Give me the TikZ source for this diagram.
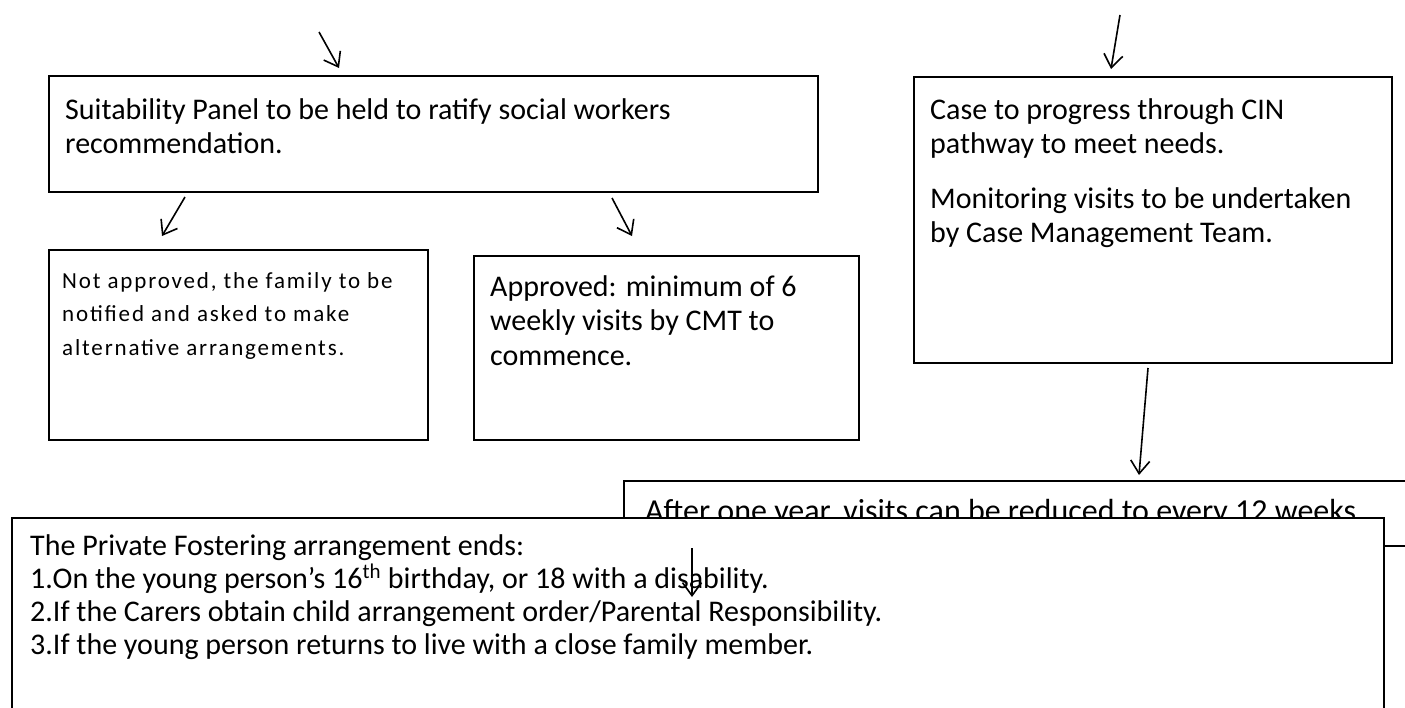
\documentclass[tikz,border=0pt]{standalone}
\usepackage{fontspec}
\setmainfont{Carlito}
\newfontfamily\spacedfont[LetterSpace=8]{Carlito}
\usetikzlibrary{arrows.meta}
\begin{document}
\begin{tikzpicture}[x=1pt,y=-1pt,
  box/.style={draw=black,line width=1.6pt,fill=white,inner sep=0pt,anchor=north west},
  txt/.style={anchor=base west,inner sep=0pt,font=\fontsize{30}{34}\selectfont},
  small/.style={anchor=base west,inner sep=0pt,font=\spacedfont\fontsize{23}{26}\selectfont},
  arr/.style={line width=1.6pt,-{Straight Barb[length=13pt,width=19pt,line width=1.6pt]}}]
\useasboundingbox (0,0) rectangle (1405,707);
\clip (0,0) rectangle (1405,707);
% boxes
\node[box,minimum width=769pt,minimum height=116pt] (A) at (48,75) {};
\node[box,minimum width=379pt,minimum height=190pt] (B) at (48,249) {};
\node[box,minimum width=385pt,minimum height=184pt] (C) at (473,255) {};
\node[box,minimum width=478pt,minimum height=286pt] (D) at (913,76) {};
% texts
\node[txt] (a1) at (65,119) {Suitability Panel to be held to ratify social workers};
\node[txt] (a2) at (65,153) {recommendation.};
\node[small] (b1) at (62,288) {Not approved, the family to be};
\node[small] (b2) at (62,321) {notified and asked to make};
\node[small] (b3) at (62,355) {alternative arrangements.};
\node[txt] (c1) at (490,296) {Approved: minimum of 6};
\node[txt] (c2) at (490,330) {weekly visits by CMT to};
\node[txt] (c3) at (490,365) {commence.};
\node[txt] (d1) at (930,119) {Case to progress through CIN};
\node[txt] (d2) at (930,153) {pathway to meet needs.};
\node[txt] (d3) at (930,208) {Monitoring visits to be undertaken};
\node[txt] (d4) at (930,242) {by Case Management Team.};
% box E (partly hidden)
\node[box,minimum width=800pt,minimum height=65pt] (E) at (623,480) {};
\node[txt,font=\fontsize{32}{36}\selectfont] (e1) at (645,521) {After one year, visits can be reduced to every 12 weeks.};
% box F
\node[box,minimum width=1372pt,minimum height=220pt] (F) at (11,517) {};
\node[txt] (f1) at (30,555) {The Private Fostering arrangement ends:};
\node[txt] (f2) at (30,588) {1.On the young person’s 16\textsuperscript{th} birthday, or 18 with a disability.};
\node[txt] (f3) at (30,621) {2.If the Carers obtain child arrangement order/Parental Responsibility.};
\node[txt] (f4) at (30,654) {3.If the young person returns to live with a close family member.};
% arrow coordinates
\coordinate (t1s) at (319,32);  \coordinate (t1e) at (339,68);
\coordinate (t2s) at (1120,15); \coordinate (t2e) at (1111,69);
\coordinate (abs) at (185,197); \coordinate (abe) at (162,236);
\coordinate (acs) at (612,198); \coordinate (ace) at (632,236);
\coordinate (des) at (1148,368); \coordinate (dee) at (1139,475);
\coordinate (fs) at (692,548);  \coordinate (fe) at (692,597);
\draw[arr] (t1s) -- (t1e);
\draw[arr] (t2s) -- (t2e);
\draw[arr] (abs) -- (abe);
\draw[arr] (acs) -- (ace);
\draw[arr] (des) -- (dee);
\draw[arr] (fs) -- (fe);
\end{tikzpicture}
\end{document}
